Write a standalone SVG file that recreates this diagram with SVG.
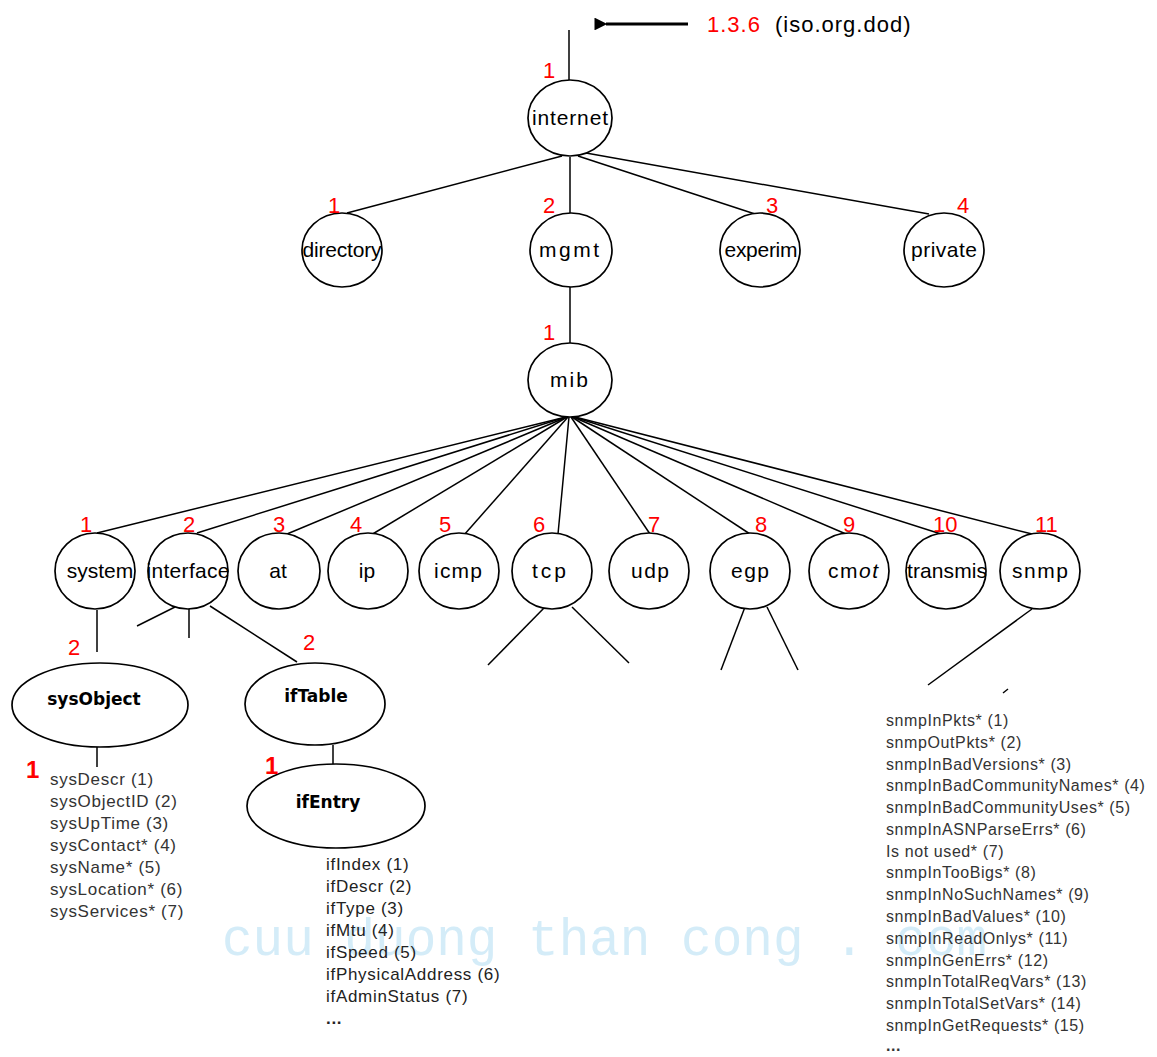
<svg xmlns="http://www.w3.org/2000/svg" width="1157" height="1057" viewBox="0 0 1157 1057">
  <defs>
    <marker id="arrowhead" viewBox="0 0 10 10" refX="1" refY="5" markerWidth="8" markerHeight="4" markerUnits="strokeWidth" orient="auto-start-reverse">
      <path d="M0,5 L10,0 L10,10 Z" fill="#000"/>
    </marker>
    <style>
      .node ellipse { fill: #fff; stroke: #000; stroke-width: 1.7; }
      .lbl { font-family: "Liberation Sans", Arial, sans-serif; font-size: 21px; fill: #000; text-anchor: middle; }
      .bold { font-family: "DejaVu Sans", Verdana, sans-serif; font-size: 17px; font-weight: bold; fill: #000; text-anchor: middle; }
      .num { font-family: "Liberation Sans", Arial, sans-serif; font-size: 22px; fill: #ff0000; }
      .numb { font-family: "Liberation Sans", Arial, sans-serif; font-size: 24px; font-weight: bold; fill: #ff0000; }
      .list { font-family: "Liberation Sans", Arial, sans-serif; font-size: 17px; fill: #333; letter-spacing: 0.7px; }
      .slist { font-family: "Liberation Sans", Arial, sans-serif; font-size: 16px; fill: #333; letter-spacing: 0.6px; }
      .edges line { stroke: #000; stroke-width: 1.5; }
      .wm { font-family: "Liberation Mono", "Courier New", monospace; font-size: 51px; fill: #d4ecf8; }
    </style>
  </defs>

  <rect width="1157" height="1057" fill="#fff"/>

  <!-- site watermark -->
  <text class="wm" x="222" y="955">cuu duong than cong . com</text>

  <!-- connectors -->
  <g id="edges" class="edges">
    <line x1="569" y1="30" x2="569" y2="80"/>
    <line x1="688" y1="24" x2="606" y2="24" style="stroke-width:3.2" marker-end="url(#arrowhead)"/>
    <!-- internet to level 2 -->
    <line x1="562" y1="156" x2="347" y2="213"/>
    <line x1="570" y1="157" x2="570" y2="213"/>
    <line x1="578" y1="156" x2="755" y2="214"/>
    <line x1="586" y1="153" x2="929" y2="214"/>
    <!-- mgmt to mib -->
    <line x1="570" y1="287" x2="570" y2="343"/>
    <!-- mib to level 3 -->
    <g style="stroke-width:2">
      <line x1="566" y1="417" x2="97" y2="533"/>
      <line x1="566" y1="417" x2="197" y2="533"/>
      <line x1="567" y1="417" x2="287" y2="534"/>
      <line x1="567" y1="417" x2="371" y2="535"/>
      <line x1="568" y1="417" x2="464" y2="535"/>
      <line x1="569" y1="417" x2="558" y2="534"/>
      <line x1="571" y1="417" x2="650" y2="534"/>
      <line x1="572" y1="417" x2="750" y2="534"/>
      <line x1="573" y1="417" x2="846" y2="534"/>
      <line x1="574" y1="417" x2="941" y2="534"/>
      <line x1="575" y1="417" x2="1032" y2="534"/>
    </g>
    <!-- below system -->
    <line x1="97" y1="610" x2="97" y2="652"/>
    <line x1="97" y1="747" x2="97" y2="767"/>
    <!-- below interface -->
    <line x1="175" y1="607" x2="137" y2="626"/>
    <line x1="189" y1="609" x2="189" y2="638"/>
    <line x1="210" y1="606" x2="297" y2="662"/>
    <line x1="333" y1="745" x2="333" y2="765"/>
    <!-- below tcp -->
    <line x1="545" y1="607" x2="488" y2="665"/>
    <line x1="572" y1="607" x2="629" y2="663"/>
    <!-- below egp -->
    <line x1="745" y1="607" x2="721" y2="670"/>
    <line x1="767" y1="607" x2="798" y2="670"/>
    <!-- below snmp -->
    <line x1="1032" y1="609" x2="928" y2="685"/>
    <line x1="1008" y1="689" x2="1003" y2="693"/>
  </g>

  <!-- root reference -->
  <g id="root-label">
    <text class="num" x="707" y="32" letter-spacing="1">1.3.6</text>
    <text x="775" y="32" font-family="Liberation Sans, Arial, sans-serif" font-size="22" letter-spacing="1" fill="#000">(iso.org.dod)</text>
    <text class="num" x="543" y="78">1</text>
  </g>

  <g id="node-internet" class="node">
    <ellipse cx="570" cy="118" rx="42" ry="38"/>
    <text class="lbl" x="570" y="125" textLength="76">internet</text>
  </g>

  <g id="node-directory" class="node">
    <ellipse cx="342" cy="250" rx="40" ry="37"/>
    <text class="lbl" x="342" y="257" textLength="79">directory</text>
    <text class="num" x="328" y="213">1</text>
  </g>
  <g id="node-mgmt" class="node">
    <ellipse cx="571" cy="250" rx="41" ry="37"/>
    <text class="lbl" x="569" y="257" textLength="60">mgmt</text>
    <text class="num" x="543" y="213">2</text>
  </g>
  <g id="node-experim" class="node">
    <ellipse cx="760" cy="250" rx="40" ry="37"/>
    <text class="lbl" x="761" y="257" textLength="73">experim</text>
    <text class="num" x="766" y="213">3</text>
  </g>
  <g id="node-private" class="node">
    <ellipse cx="944" cy="250" rx="40" ry="37"/>
    <text class="lbl" x="944" y="257" textLength="66">private</text>
    <text class="num" x="957" y="213">4</text>
  </g>

  <g id="node-mib" class="node">
    <ellipse cx="570" cy="380" rx="42" ry="37"/>
    <text class="lbl" x="569" y="387" textLength="38">mib</text>
    <text class="num" x="543" y="340">1</text>
  </g>

  <g id="node-system" class="node">
    <ellipse cx="95" cy="571" rx="40" ry="38"/>
    <text class="lbl" x="100" y="578">system</text>
    <text class="num" x="80" y="532">1</text>
  </g>
  <g id="node-interface" class="node">
    <ellipse cx="188" cy="571" rx="40" ry="38"/>
    <text class="lbl" x="188" y="578" textLength="83">interface</text>
    <text class="num" x="183" y="532">2</text>
  </g>
  <g id="node-at" class="node">
    <ellipse cx="279" cy="571" rx="41" ry="38"/>
    <text class="lbl" x="278" y="578">at</text>
    <text class="num" x="273" y="532">3</text>
  </g>
  <g id="node-ip" class="node">
    <ellipse cx="368" cy="571" rx="40" ry="38"/>
    <text class="lbl" x="367" y="578">ip</text>
    <text class="num" x="350" y="532">4</text>
  </g>
  <g id="node-icmp" class="node">
    <ellipse cx="459" cy="571" rx="40" ry="38"/>
    <text class="lbl" x="458" y="578" textLength="48">icmp</text>
    <text class="num" x="439" y="532">5</text>
  </g>
  <g id="node-tcp" class="node">
    <ellipse cx="552" cy="571" rx="40" ry="38"/>
    <text class="lbl" x="549" y="578" textLength="34">tcp</text>
    <text class="num" x="533" y="532">6</text>
  </g>
  <g id="node-udp" class="node">
    <ellipse cx="649" cy="571" rx="40" ry="38"/>
    <text class="lbl" x="650" y="578" textLength="38">udp</text>
    <text class="num" x="648" y="532">7</text>
  </g>
  <g id="node-egp" class="node">
    <ellipse cx="750" cy="571" rx="40" ry="38"/>
    <text class="lbl" x="750" y="578" textLength="38">egp</text>
    <text class="num" x="755" y="532">8</text>
  </g>
  <g id="node-cmot" class="node">
    <ellipse cx="849" cy="571" rx="40" ry="38"/>
    <text class="lbl" x="853" y="578" textLength="50">cm<tspan font-style="italic">ot</tspan></text>
    <text class="num" x="843" y="532">9</text>
  </g>
  <g id="node-transmis" class="node">
    <ellipse cx="946" cy="571" rx="40" ry="38"/>
    <text class="lbl" x="947" y="578" textLength="80">transmis</text>
    <text class="num" x="933" y="532">10</text>
  </g>
  <g id="node-snmp" class="node">
    <ellipse cx="1040" cy="571" rx="40" ry="38"/>
    <text class="lbl" x="1040" y="578" textLength="56">snmp</text>
    <text class="num" x="1035" y="532">11</text>
  </g>

  <g id="node-sysObject" class="node">
    <ellipse cx="100" cy="705" rx="88" ry="42"/>
    <text class="bold" x="94" y="705">sysObject</text>
    <text class="num" x="68" y="655">2</text>
  </g>
  <g id="node-ifTable" class="node">
    <ellipse cx="315" cy="704" rx="70" ry="41"/>
    <text class="bold" x="316" y="702">ifTable</text>
    <text class="num" x="303" y="650">2</text>
  </g>
  <g id="node-ifEntry" class="node">
    <ellipse cx="336" cy="806" rx="89" ry="42"/>
    <text class="bold" x="328" y="808">ifEntry</text>
    <text class="numb" x="265" y="774">1</text>
  </g>

  <!-- sysObject members -->
  <g id="sys-members">
    <text class="numb" x="26" y="778">1</text>
    <text class="list" x="50" y="785">sysDescr (1)</text>
    <text class="list" x="50" y="807">sysObjectID (2)</text>
    <text class="list" x="50" y="829">sysUpTime (3)</text>
    <text class="list" x="50" y="851">sysContact* (4)</text>
    <text class="list" x="50" y="873">sysName* (5)</text>
    <text class="list" x="50" y="895">sysLocation* (6)</text>
    <text class="list" x="50" y="917">sysServices* (7)</text>
  </g>

  <!-- ifEntry members -->
  <g id="ifentry-members">
    <text class="list" x="326" y="870" style="fill:#222">ifIndex (1)</text>
    <text class="list" x="326" y="892" style="fill:#222">ifDescr (2)</text>
    <text class="list" x="326" y="914" style="fill:#222">ifType (3)</text>
    <text class="list" x="326" y="936" style="fill:#222">ifMtu (4)</text>
    <text class="list" x="326" y="958" style="fill:#222">ifSpeed (5)</text>
    <text class="list" x="326" y="980" style="fill:#222">ifPhysicalAddress (6)</text>
    <text class="list" x="326" y="1002" style="fill:#222">ifAdminStatus (7)</text>
    <text class="list" x="326" y="1024" style="fill:#222;font-weight:bold">...</text>
  </g>

  <!-- snmp members -->
  <g id="snmp-members">
    <text class="slist" x="886" y="726">snmpInPkts* (1)</text>
    <text class="slist" x="886" y="748">snmpOutPkts* (2)</text>
    <text class="slist" x="886" y="770">snmpInBadVersions* (3)</text>
    <text class="slist" x="886" y="791">snmpInBadCommunityNames* (4)</text>
    <text class="slist" x="886" y="813">snmpInBadCommunityUses* (5)</text>
    <text class="slist" x="886" y="835">snmpInASNParseErrs* (6)</text>
    <text class="slist" x="886" y="857">Is not used* (7)</text>
    <text class="slist" x="886" y="878">snmpInTooBigs* (8)</text>
    <text class="slist" x="886" y="900">snmpInNoSuchNames* (9)</text>
    <text class="slist" x="886" y="922">snmpInBadValues* (10)</text>
    <text class="slist" x="886" y="944">snmpInReadOnlys* (11)</text>
    <text class="slist" x="886" y="966">snmpInGenErrs* (12)</text>
    <text class="slist" x="886" y="987">snmpInTotalReqVars* (13)</text>
    <text class="slist" x="886" y="1009">snmpInTotalSetVars* (14)</text>
    <text class="slist" x="886" y="1031">snmpInGetRequests* (15)</text>
    <text class="slist" x="886" y="1051" style="font-weight:bold">...</text>
  </g>
</svg>
